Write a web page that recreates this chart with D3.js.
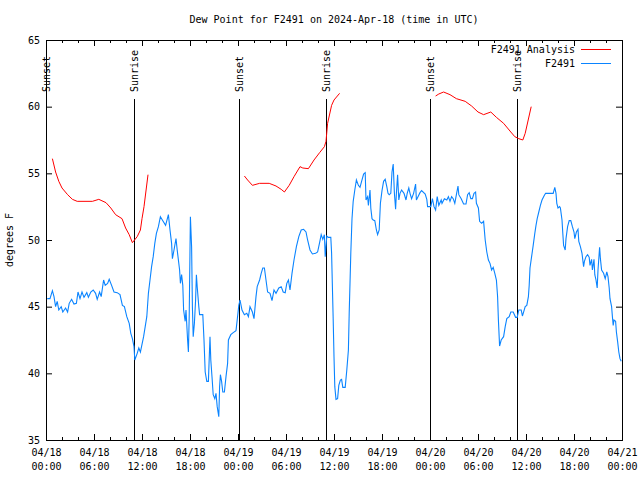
<!DOCTYPE html>
<html><head><meta charset="utf-8">
<script src="https://cdn.jsdelivr.net/npm/d3@7"></script>
<style>
body{margin:0;background:#fff;}
svg{display:block;font-family:"DejaVu Sans Mono",monospace;font-size:10px;}
</style></head>
<body><svg id="c" width="640" height="480"></svg>
<script>
// ---- data (hours after 2024-04-18 00:00 UTC, degrees F) ----
const titleText = "Dew Point for F2491 on 2024-Apr-18 (time in UTC)";
const yLabel = "degrees F";
const seriesNames = ["F2491 Analysis", "F2491"];
const yTicks = [35, 40, 45, 50, 55, 60, 65];
const sunsetHours = [0, 24.08, 48.04];
const sunriseHours = [11.0, 34.95, 58.9];

const analysisSeg1 = [[0.8,56.1],[1.2,55.1],[1.6,54.4],[2.0,53.9],[2.7,53.4],[3.3,53.05],[3.9,52.9],[5.8,52.9],[6.6,53.05],[7.5,52.8],[8.1,52.4],[8.7,51.9],[9.5,51.6],[9.95,50.9],[10.4,50.4],[10.8,49.8],[11.4,50.25],[11.8,50.75],[12.0,51.6],[12.25,52.5],[12.75,54.9]];
const analysisSeg2 = [[24.8,54.8],[25.2,54.5],[25.8,54.1],[26.7,54.25],[27.9,54.25],[28.75,54.05],[29.4,53.8],[29.8,53.6],[30.4,54.1],[31.0,54.75],[31.75,55.5],[32.1,55.4],[32.8,55.35],[33.5,56.0],[34.2,56.55],[34.8,57.0],[35.0,57.4],[35.2,58.75],[35.7,60.1],[36.0,60.5],[36.7,61.0]];
const analysisSeg3 = [[48.7,60.8],[49.1,60.95],[49.7,61.1],[50.5,60.9],[51.3,60.6],[52.4,60.4],[53.2,60.05],[54.0,59.6],[54.7,59.4],[55.6,59.6],[56.3,59.2],[57.2,58.75],[58.1,58.1],[58.6,57.75],[59.1,57.6],[59.6,57.5],[59.9,58.0],[60.65,60.0]];

const stationObs = [[0.15,45.6],[0.5,45.6],[0.8,46.2],[1.0,45.75],[1.2,45.0],[1.4,45.4],[1.6,44.75],[1.9,45.0],[2.1,44.6],[2.45,44.9],[2.7,44.6],[2.9,45.25],[3.2,45.55],[3.5,45.2],[3.8,45.25],[4.0,46.1],[4.25,45.6],[4.5,46.1],[4.75,45.7],[5.1,46.05],[5.3,45.7],[5.6,46.1],[5.9,46.25],[6.2,46.0],[6.4,45.55],[6.7,46.1],[6.9,45.75],[7.2,47.0],[7.4,46.6],[7.7,46.75],[7.9,47.05],[8.2,46.6],[8.5,46.1],[8.9,46.05],[9.25,45.9],[9.55,45.1],[9.8,45.0],[10.1,44.25],[10.4,43.75],[10.6,43.0],[10.8,42.6],[11.0,42.0],[11.1,41.0],[11.4,41.5],[11.6,41.9],[11.8,41.6],
[12.2,42.75],[12.4,43.5],[12.6,44.25],[12.8,46.0],[13.0,47.0],[13.2,48.0],[13.4,48.75],[13.6,49.75],[13.8,50.5],[14.05,51.0],[14.3,51.75],[14.6,51.45],[14.95,51.1],[15.3,51.9],[15.5,50.75],[15.7,49.75],[15.8,48.6],[16.0,49.25],[16.25,50.1],[16.4,49.25],[16.7,47.75],[16.8,46.75],[16.95,47.4],[17.1,46.6],[17.2,44.75],[17.4,43.9],[17.5,44.75],[17.7,42.5],[17.8,41.6],[17.9,44.25],[18.05,51.75],[18.2,49.5],[18.3,45.0],[18.4,42.75],[18.55,43.75],[18.7,45.5],[18.8,47.4],[18.9,46.5],[19.1,45.0],[19.2,44.4],[19.6,44.4],[19.75,42.5],[19.9,40.1],[20.1,39.4],[20.3,39.4],[20.5,42.75],[20.6,41.0],[20.75,39.75],[20.9,38.4],[21.1,38.1],[21.25,38.5],[21.4,37.5],[21.6,36.75],[21.7,39.0],[21.8,39.9],[21.95,39.4],[22.1,38.6],[22.3,38.6],[22.5,39.75],[22.7,40.75],[22.8,42.5],[23.1,42.9],[23.4,43.05],[23.75,43.2],[23.9,44.0],[24.1,45.1],
[24.25,45.5],[24.5,44.75],[24.8,44.4],[25.1,44.5],[25.3,44.25],[25.5,45.0],[25.8,44.6],[26.0,44.1],[26.25,45.75],[26.4,46.5],[26.7,47.0],[26.9,47.5],[27.1,47.9],[27.3,47.9],[27.5,47.0],[27.7,46.1],[28.0,46.0],[28.25,45.45],[28.5,46.25],[28.75,46.0],[29.1,46.4],[29.4,46.5],[29.65,46.1],[29.9,46.05],[30.1,46.75],[30.3,47.0],[30.5,46.25],[30.75,47.5],[31.0,48.5],[31.3,49.5],[31.6,50.25],[31.9,50.75],[32.2,50.8],[32.5,50.6],[32.7,50.0],[33.0,49.25],[33.3,48.95],[33.7,49.0],[33.95,49.1],[34.2,49.8],[34.4,50.4],[34.6,50.05],[34.8,50.4],[34.9,48.75],[35.1,50.3],[35.3,50.2],[35.6,50.2],[35.7,49.0],[35.8,46.5],[35.9,44.0],[36.0,41.25],[36.1,39.0],[36.25,38.05],[36.45,38.1],[36.6,39.1],[36.8,39.5],[36.95,39.55],[37.1,38.95],[37.4,38.95],[37.6,40.25],[37.8,41.75],[37.9,44.5],[38.1,49.0],[38.25,51.6],[38.4,52.9],[38.6,53.75],[38.8,54.5],[39.05,54.1],[39.25,53.95],[39.45,54.4],[39.7,54.95],[39.9,55.05],[40.0,53.0],[40.2,53.25],[40.3,52.6],[40.5,53.75],[40.6,52.4],[40.75,51.6],[40.9,51.5],[41.1,51.45],[41.3,50.75],[41.45,50.4],[41.65,50.75],[41.8,52.75],[42.0,53.7],[42.2,54.4],[42.4,54.55],[42.6,54.0],[42.75,53.5],[42.9,53.4],[43.1,53.5],[43.25,55.1],[43.4,55.7],[43.55,53.5],[43.7,52.3],[43.8,53.5],[43.95,54.9],[44.1,53.0],[44.25,53.5],[44.45,53.75],[44.75,53.5],[45.0,53.0],[45.15,53.5],[45.35,53.9],[45.5,53.5],[45.7,53.1],[45.95,53.5],[46.2,54.2],[46.3,53.0],[46.5,53.25],[46.75,53.55],[46.95,53.7],[47.4,53.45],[47.6,53.05],[47.7,52.5],[48.1,52.5],[48.3,53.1],[48.5,52.5],[48.7,52.25],[48.9,53.25],[49.1,52.6],[49.4,53.0],[49.5,52.75],[49.8,53.1],[50.1,53.0],[50.3,53.25],[50.5,52.9],[50.7,53.25],[50.9,53.1],[51.1,52.75],[51.3,53.4],[51.5,54.05],[51.6,53.4],[51.9,53.1],[52.2,52.7],[52.5,52.7],[52.7,53.4],[52.9,53.55],[53.1,53.1],[53.3,53.1],[53.5,53.5],[53.7,53.6],[53.8,52.75],[54.05,52.4],[54.2,51.4],[54.45,51.25],[54.7,51.4],[54.9,50.0],[55.1,49.1],[55.3,48.5],[55.5,48.25],[55.7,47.75],[55.9,47.95],[56.1,47.5],[56.3,47.0],[56.45,45.75],[56.55,44.0],[56.7,42.05],[56.9,42.5],[57.2,42.75],[57.4,43.5],[57.6,44.1],[57.9,44.25],[58.1,44.6],[58.4,44.6],[58.7,44.2],[58.9,44.2],[59.1,44.75],[59.4,44.75],[59.55,44.3],[59.8,44.8],
[59.9,45.0],[60.1,45.1],[60.3,45.75],[60.4,46.6],[60.5,47.9],[60.7,48.75],[60.9,49.6],[61.1,50.5],[61.25,51.1],[61.4,51.6],[61.6,52.1],[61.8,52.6],[62.0,53.0],[62.25,53.3],[62.45,53.5],[63.4,53.5],[63.6,53.95],[63.75,53.5],[63.85,52.75],[64.0,52.4],[64.2,52.5],[64.3,52.4],[64.5,51.5],[64.6,50.5],[64.7,49.6],[64.9,49.25],[65.0,50.1],[65.2,51.0],[65.4,51.45],[65.6,51.45],[65.8,51.0],[66.0,50.6],[66.1,50.1],[66.3,50.6],[66.5,50.8],[66.6,49.9],[66.8,49.5],[67.0,49.0],[67.2,48.0],[67.3,48.4],[67.5,48.75],[67.7,48.9],[67.9,48.7],[68.0,48.1],[68.2,48.55],[68.3,47.75],[68.5,48.55],[68.6,47.4],[68.75,47.0],[68.9,46.4],[69.0,47.75],[69.2,49.45],[69.3,48.6],[69.45,47.75],[69.7,47.5],[69.9,47.1],[70.1,47.6],[70.25,47.25],[70.4,46.4],[70.5,45.6],[70.7,45.0],[70.8,44.25],[70.9,43.6],[71.0,44.0],[71.2,43.9],[71.3,43.1],[71.45,42.4],[71.6,41.6],[71.75,41.1],[71.9,40.9]];

// ---- drawing ----
const t0 = Date.UTC(2024, 3, 18, 0, 0);
const hr = h => new Date(t0 + h * 3600e3);
const L = 46, R = 622, T = 40, B = 440;
const svg = d3.select("#c");
const x = d3.scaleUtc().domain([hr(0), hr(72)]).range([L, R]);
const y = d3.scaleLinear().domain([35, 65]).range([B, T]);
const redC = "#ff0000", blueC = "#0a84ff";

svg.append("text").attr("x", 334).attr("y", 23).attr("text-anchor", "middle").text(titleText);
svg.append("text").attr("transform", "translate(13,240) rotate(-90)").attr("text-anchor", "middle").text(yLabel);

function clean(g){ g.select(".domain").remove(); g.selectAll("line").attr("stroke","#000"); g.selectAll("text").attr("fill","#000").style("font-family","DejaVu Sans Mono, monospace").style("font-size","10px"); }

// bottom axis
const gb = svg.append("g").attr("transform", `translate(0,${B})`)
  .call(d3.axisBottom(x).ticks(d3.utcHour.every(6)).tickSize(-6).tickPadding(9).tickFormat(d3.utcFormat("%m/%d")));
clean(gb);
gb.selectAll(".tick text").each(function(d){
  const t = d3.select(this); t.text(null);
  t.append("tspan").attr("x", 0).text(d3.utcFormat("%m/%d")(d));
  t.append("tspan").attr("x", 0).attr("dy", 14).text(d3.utcFormat("%H:%M")(d));
});
const gbm = svg.append("g").attr("transform", `translate(0,${B})`)
  .call(d3.axisBottom(x).ticks(d3.utcHour.every(2)).tickSize(-3).tickFormat(""));
clean(gbm);
// top axis (mirror)
const gt = svg.append("g").attr("transform", `translate(0,${T})`)
  .call(d3.axisTop(x).ticks(d3.utcHour.every(6)).tickSize(-6).tickFormat(""));
clean(gt);
const gtm = svg.append("g").attr("transform", `translate(0,${T})`)
  .call(d3.axisTop(x).ticks(d3.utcHour.every(2)).tickSize(-3).tickFormat(""));
clean(gtm);
// left / right
const gl = svg.append("g").attr("transform", `translate(${L},0)`)
  .call(d3.axisLeft(y).tickValues(yTicks).tickSize(-6).tickPadding(6));
clean(gl);
const gr = svg.append("g").attr("transform", `translate(${R},0)`)
  .call(d3.axisRight(y).tickValues(yTicks).tickSize(-6).tickFormat(""));
clean(gr);

svg.append("rect").attr("x", L + 0.5).attr("y", T + 0.5).attr("width", R - L).attr("height", B - T)
  .attr("fill", "none").attr("stroke", "#000");

// sunrise / sunset markers
const marks = sunsetHours.map(h => ({h, label: "Sunset"})).concat(sunriseHours.map(h => ({h, label: "Sunrise"})));
marks.forEach(m => {
  const xp = Math.round(x(hr(m.h))) + 0.5;
  svg.append("line").attr("x1", xp).attr("x2", xp).attr("y1", 99).attr("y2", B).attr("stroke", "#000");
  svg.append("text").attr("transform", `translate(${xp},92) rotate(-90)`).attr("dy", "0.35em").text(m.label);
});

const line = d3.line().x(d => x(hr(d[0]))).y(d => y(d[1]));
[analysisSeg1, analysisSeg2, analysisSeg3].forEach(seg => {
  svg.append("path").datum(seg).attr("d", line).attr("fill", "none").attr("stroke", redC).attr("stroke-width", 1);
});
svg.append("path").datum(stationObs).attr("d", line).attr("fill", "none").attr("stroke", blueC).attr("stroke-width", 1.1);

// legend
const legend = [{name: seriesNames[0], c: redC, yy: 49.5}, {name: seriesNames[1], c: blueC, yy: 63.5}];
legend.forEach(l => {
  svg.append("text").attr("x", 575).attr("y", l.yy).attr("dy", "0.35em").attr("text-anchor", "end").text(l.name);
  svg.append("line").attr("x1", 581).attr("x2", 611).attr("y1", l.yy).attr("y2", l.yy).attr("stroke", l.c);
});
</script></body></html>
